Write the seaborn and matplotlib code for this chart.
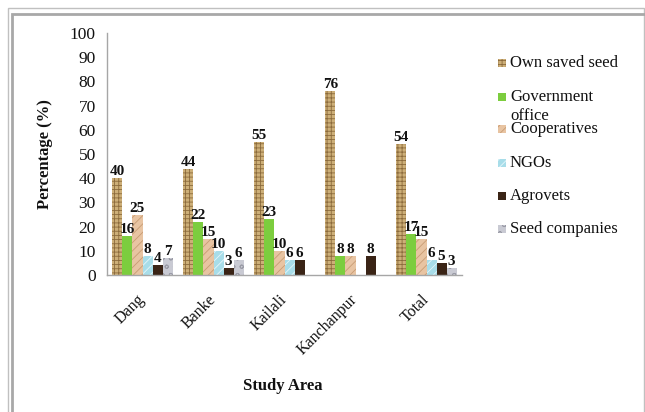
import numpy as np
import pandas as pd
import matplotlib
matplotlib.use("Agg")
import matplotlib.pyplot as plt
from matplotlib.patches import Rectangle
import seaborn as sns

# Seed sources by study area (percentage of respondents)
areas = ["Dang", "Banke", "Kailali", "Kanchanpur", "Total"]
sources = ["Own saved seed", "Government office", "Cooperatives",
           "NGOs", "Agrovets", "Seed companies"]
own_saved_seed = [40, 44, 55, 76, 54]
government_office = [16, 22, 23, 8, 17]
cooperatives = [25, 15, 10, 8, 15]
ngos = [8, 10, 6, 0, 6]
agrovets = [4, 3, 6, 8, 5]
seed_companies = [7, 6, 0, 0, 3]

series = [own_saved_seed, government_office, cooperatives, ngos, agrovets, seed_companies]
df = pd.DataFrame({
    "area": np.repeat([areas], len(sources), axis=0).ravel(),
    "source": np.repeat(sources, len(areas)),
    "pct": np.concatenate(series),
})

face = ["#cdaf78", "#7ccd3e", "#e8c4a2", "#a8dde9", "#3a2416", "#c9cad3"]
hatch_col = ["#8c6b3c", "#7ccd3e", "#c89c74", "#e6f6fa", "#3a2416", "#9a9ba6"]
hatches = ["++++", None, "////", "////", None, "oo"]

sns.set_style("white")
plt.rcParams["font.family"] = ["Liberation Serif", "DejaVu Serif"]
plt.rcParams["hatch.linewidth"] = 0.6

fig = plt.figure(figsize=(6.45, 4.12), dpi=100)
W, H = 645, 412
ax = fig.add_axes([107 / W, 1 - 275 / H, 355 / W, 242 / H])

sns.barplot(data=df, x="area", y="pct", hue="source", hue_order=sources,
            order=areas, palette=face, saturation=1, width=0.85,
            legend=False, ax=ax)

for i, cont in enumerate(ax.containers):
    for bar in cont:
        bar.set_linewidth(0)
        bar.set_edgecolor(hatch_col[i])
        if hatches[i]:
            bar.set_hatch(hatches[i])
    vals = series[i]
    ax.bar_label(cont, labels=[f"{v:g}" if v > 0 else "" for v in vals],
                 padding=0, fontsize=11, fontweight="bold", color="#111111")

ax.set_ylim(0, 100)
ax.set_yticks(range(0, 101, 10))
ax.set_xlim(-0.5, 4.5)
for s in ["top", "right"]:
    ax.spines[s].set_visible(False)
for s in ["left", "bottom"]:
    ax.spines[s].set_color("#a6a6a6")
    ax.spines[s].set_linewidth(1)
ax.tick_params(axis="y", length=4, width=1, color="#a6a6a6", pad=4,
               labelsize=12.5, labelcolor="#111111")
ax.tick_params(axis="x", length=0, pad=16, labelsize=11.5, labelcolor="#111111")
plt.setp(ax.get_xticklabels(), rotation=45, ha="right", va="center",
         rotation_mode="anchor")

ax.set_xlabel("")
ax.set_ylabel("")
fig.text(45 / W, 1 - 154 / H, "Percentage (%)", rotation=90, ha="center",
         va="center", fontsize=12, fontweight="bold", color="#111111")
fig.text(283 / W, 1 - 386 / H, "Study Area", ha="center", va="center",
         fontsize=12, fontweight="bold", color="#111111")

# Legend keys and labels
legend_y = [63, 97, 129, 163, 196, 229]
legend_txt = ["Own saved seed", "Government\noffice", "Cooperatives",
              "NGOs", "Agrovets", "Seed companies"]
for i, (y, lab) in enumerate(zip(legend_y, legend_txt)):
    fig.patches.append(Rectangle((498 / W, 1 - (y + 4) / H), 8 / W, 8 / H,
                                 transform=fig.transFigure, facecolor=face[i],
                                 edgecolor=hatch_col[i], linewidth=0,
                                 hatch=hatches[i]))
    lines = lab.split("\n")
    fig.text(510 / W, 1 - y / H, lines[0], ha="left", va="center",
             fontsize=12, color="#111111")
    if len(lines) > 1:
        fig.text(510 / W, 1 - (y + 19) / H, lines[1], ha="left",
                 va="center", fontsize=12, color="#111111")

# Double frame around the chart
fig.patches.append(Rectangle((8 / W, -0.1), 636 / W, 1.1 - 8 / H,
                             transform=fig.transFigure, fill=False,
                             edgecolor="#c0c0c0", linewidth=1))
fig.patches.append(Rectangle((12 / W, -0.1), 660 / W, 1.1 - 14 / H,
                             transform=fig.transFigure, fill=False,
                             edgecolor="#a8a8a8", linewidth=2))

fig.savefig("out.png", dpi=100)
